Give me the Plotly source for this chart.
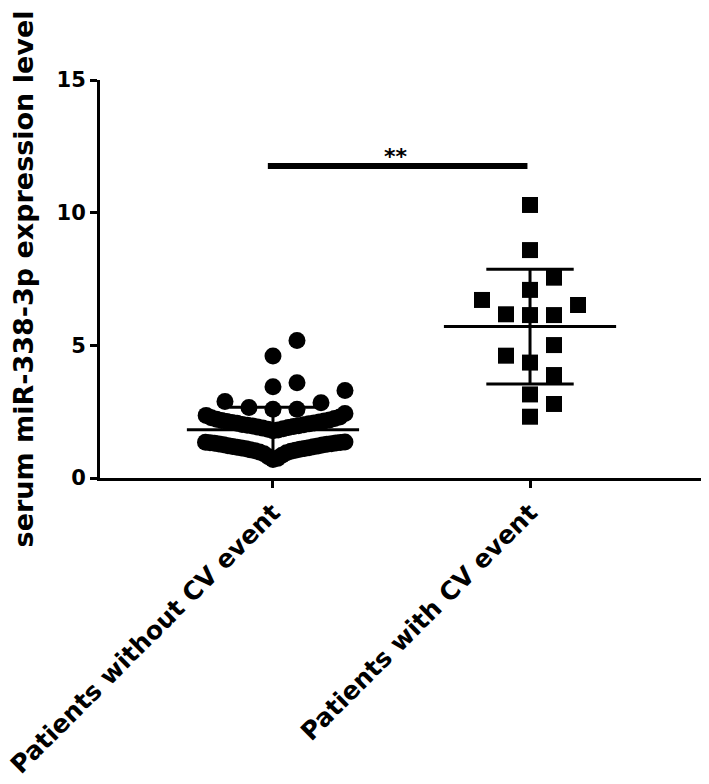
import numpy as np
import plotly.graph_objects as go

# Values
categories = ["Patients without CV event", "Patients with CV event"]

without_cv = [
    0.70, 0.74, 0.80, 0.86, 0.91, 0.95, 0.98, 1.01, 1.03, 1.05, 1.06, 1.08,
    1.10, 1.11, 1.13, 1.14, 1.16, 1.18, 1.19, 1.21, 1.22, 1.24, 1.25, 1.27,
    1.28, 1.29, 1.31, 1.32, 1.33, 1.34, 1.35, 1.36,
    1.78, 1.81, 1.84, 1.86, 1.88, 1.90, 1.92, 1.94, 1.96, 1.97, 1.99, 2.01,
    2.02, 2.04, 2.06, 2.07, 2.09, 2.11, 2.13, 2.15, 2.17, 2.19, 2.21, 2.24,
    2.27, 2.30, 2.36, 2.43,
    2.59, 2.59, 2.66, 2.84, 2.88, 3.30, 3.44, 3.59, 4.60, 5.18,
]

with_cv = [
    2.31, 2.79, 3.15, 3.88, 4.35, 4.61, 5.01, 6.14,
    6.14, 6.17, 6.52, 6.71, 7.09, 7.55, 8.59, 10.29,
]

y_ticks = [0, 5, 10, 15]
y_title = "serum miR-338-3p expression level"
sig_label = "**"

FONT = "DejaVu Sans"


def swarm_offsets(values, gap=0.75, row_height=0.7, slot=0.0934,
                  max_slot=3, half_width=0.28):
    # Prism-like dot layout: slots from the centre outward, rows squeezed when crowded
    vals = np.asarray(values, float)
    order = np.argsort(vals, kind="stable")
    slots = np.zeros(len(vals), int)
    last_in_slot = {}
    for i in order:
        k = 0
        n = 0
        while k in last_in_slot and vals[i] - last_in_slot[k] < gap:
            n += 1
            k = (n + 1) // 2 if n % 2 else -(n // 2)
        last_in_slot[k] = vals[i]
        slots[i] = k
    offsets = slots * slot
    rows, start = [], None
    for i in order:
        if start is None or vals[i] > start + row_height:
            start = vals[i]
            rows.append([])
        rows[-1].append(i)
    for r in rows:
        kmax = np.abs(slots[r]).max()
        if kmax > max_slot:
            offsets[r] = slots[r] * half_width / kmax
    return offsets


def mean_sd_lines(values, c, mean_w=0.335, cap_w=0.17):
    m = np.mean(values)
    s = np.std(values, ddof=1)
    xs = [c - mean_w, c + mean_w, None,
          c - cap_w, c + cap_w, None,
          c - cap_w, c + cap_w, None,
          c, c]
    ys = [m, m, None,
          m + s, m + s, None,
          m - s, m - s, None,
          m - s, m + s]
    return xs, ys


fig = go.Figure()

groups = [(without_cv, "circle", 17), (with_cv, "square", 16)]
for c, (vals, symbol, size) in enumerate(groups):
    fig.add_trace(go.Scatter(
        x=c + swarm_offsets(vals),
        y=vals,
        mode="markers",
        marker=dict(symbol=symbol, size=size, color="black", line=dict(width=0)),
        name=categories[c],
        hoverinfo="y",
    ))

for c, (vals, _, _) in enumerate(groups):
    xs, ys = mean_sd_lines(vals, c)
    fig.add_trace(go.Scatter(
        x=xs, y=ys, mode="lines",
        line=dict(color="black", width=3),
        hoverinfo="skip",
    ))

# significance bar
fig.add_shape(type="line", xref="x", yref="y",
              x0=-0.02, x1=0.99, y0=11.76, y1=11.76,
              line=dict(color="black", width=6))
fig.add_annotation(x=0.48, y=12.1, xref="x", yref="y", text=sig_label,
                   showarrow=False,
                   font=dict(family=FONT, size=22, color="black", weight="bold"))

# page body adds 8px, so the figure is 8px smaller than the window
fig.update_layout(
    width=701, height=776,
    margin=dict(l=92, r=6, t=72, b=306),
    paper_bgcolor="white", plot_bgcolor="white",
    showlegend=False,
)

fig.update_xaxes(
    range=[-0.673, 1.673], automargin=False,
    tickvals=[0, 1], ticktext=categories, tickangle=-45,
    ticklabeloverflow="allow",
    ticks="outside", ticklen=7, tickwidth=3, tickcolor="black",
    showline=True, linewidth=3, linecolor="black",
    showgrid=False, zeroline=False,
    tickfont=dict(family=FONT, size=25, color="black", weight="bold"),
)
fig.update_yaxes(
    range=[0, 15], tickvals=y_ticks, automargin=False,
    ticks="outside", ticklen=7, tickwidth=3, tickcolor="black",
    showline=True, linewidth=3, linecolor="black",
    showgrid=False, zeroline=False,
    tickfont=dict(family=FONT, size=21, color="black", weight="bold"),
    title=dict(text=y_title, standoff=19,
               font=dict(family=FONT, size=27, color="black", weight="bold")),
)

fig.write_html("out.html")
